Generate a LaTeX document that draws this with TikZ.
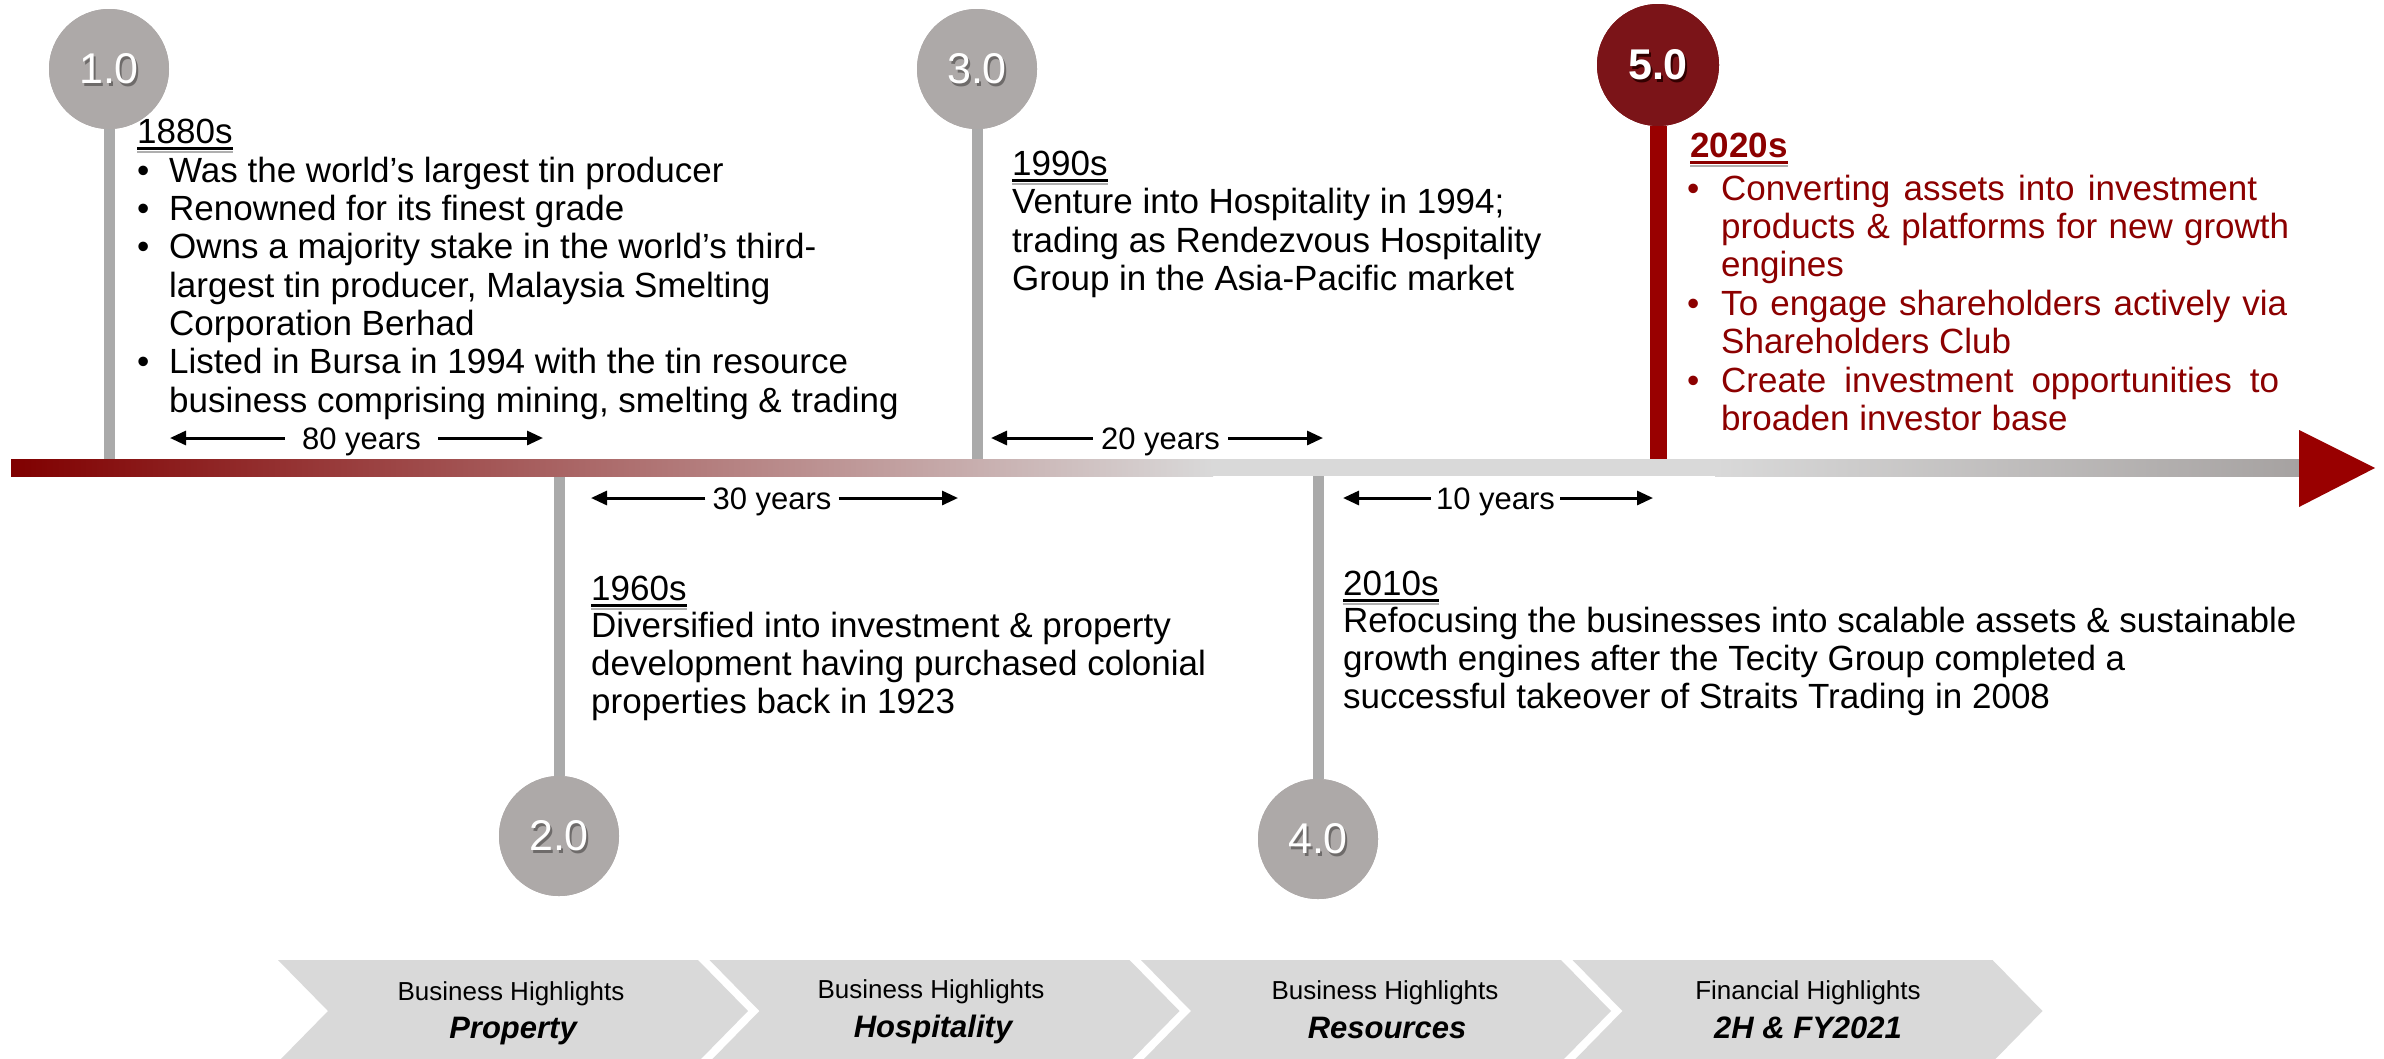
\documentclass[tikz,border=0pt]{standalone}
\usepackage{fontspec}
\setmainfont{Liberation Sans}
\usetikzlibrary{arrows.meta}
\definecolor{barred}{RGB}{128,0,0}
\definecolor{barlight}{RGB}{217,217,217}
\definecolor{bargray}{RGB}{166,162,161}
\definecolor{circgray}{RGB}{173,169,168}
\definecolor{stemgray}{RGB}{170,170,170}
\definecolor{circred}{RGB}{123,20,24}
\definecolor{darkred}{RGB}{153,0,0}
\definecolor{txtred}{RGB}{140,0,0}
\definecolor{chevgray}{RGB}{217,217,217}
\definecolor{numshadow}{RGB}{110,107,106}
\definecolor{ushadow}{RGB}{175,175,175}
\tikzset{
  body/.style={font=\fontsize{35}{42}\selectfont, inner sep=0pt, anchor=base west},
  redbody/.style={body, text=txtred},
  uline/.style={line width=3pt},
  ushd/.style={line width=2pt, draw=ushadow},
  stemline/.style={line width=11pt, draw=stemgray},
  redstem/.style={line width=17pt, draw=darkred},
  dot/.style={circle, inner sep=0pt, minimum size=120pt},
  numtxt/.style={font=\fontsize{43}{50}\selectfont, text=white, inner sep=0pt},
  numshd/.style={font=\fontsize{43}{50}\selectfont, text=numshadow, inner sep=0pt},
  yearlbl/.style={font=\fontsize{31}{36}\selectfont, text height=22pt, text depth=0pt, inner ysep=0pt},
  yarrow/.style={line width=3pt, -{Triangle[length=16pt,width=14pt]}},
  chevtop/.style={font=\fontsize{26}{30}\selectfont, inner sep=0pt, anchor=base},
  chevbot/.style={font=\fontsize{31}{36}\selectfont\bfseries\itshape, inner sep=0pt, anchor=base},
}
\newcommand{\jline}[2]{\makebox[#1pt][s]{#2}}
\begin{document}
\begin{tikzpicture}[x=1pt,y=-1pt]
\useasboundingbox (0,0) rectangle (2384,1058);
\fill[white] (0,0) rectangle (2384,1058);

% coordinates of bar edges
\coordinate (bartop) at (0,459);
\coordinate (barbot) at (0,476);

% circles (nodes)
\node[dot, fill=circgray] (c1) at (109,69) {};
\node[dot, fill=circgray] (c2) at (559,836) {};
\node[dot, fill=circgray] (c3) at (977,69) {};
\node[dot, fill=circgray] (c4) at (1318,839) {};
\node[dot, fill=circred, minimum size=122pt] (c5) at (1658,65) {};

% stems
\draw[stemline] (c1.south) -- (c1.south |- bartop);
\draw[stemline] (c3.south) -- (c3.south |- bartop);
\draw[stemline] (c2.north) -- (c2.north |- barbot);
\draw[stemline] (c4.north) -- (c4.north |- barbot);
\draw[redstem] (c5.south) -- (c5.south |- bartop);

% redraw circles on top of stems
\fill[circgray] (c1) circle (60);
\fill[circgray] (c2) circle (60);
\fill[circgray] (c3) circle (60);
\fill[circgray] (c4) circle (60);
\fill[circred] (c5) circle (61);

% numbers
\node[numshd] (s1) at ([shift={(2,3)}]c1.center) {1.0};
\node[numtxt] (n1) at (c1.center) {1.0};
\node[numshd] (s2) at ([shift={(2,3)}]c2.center) {2.0};
\node[numtxt] (n2) at (c2.center) {2.0};
\node[numshd] (s3) at ([shift={(2,3)}]c3.center) {3.0};
\node[numtxt] (n3) at (c3.center) {3.0};
\node[numshd] (s4) at ([shift={(2,3)}]c4.center) {4.0};
\node[numtxt] (n4) at (c4.center) {4.0};
\node[numshd, text={rgb,255:red,50;green,0;blue,0}, font=\fontsize{43}{50}\selectfont\bfseries] (s5) at ([shift={(2,3)}]c5.center) {5.0};
\node[numtxt, font=\fontsize{43}{50}\selectfont\bfseries] (n5) at (c5.center) {5.0};

% main bar
\shade[left color=barred, right color=barlight] (11,459) rectangle (1213,476);
\fill[barlight] (1212,459) rectangle (1716,476);
\shade[left color=barlight, right color=bargray] (1715,459) rectangle (2300,476);
\fill[darkred] (2299,430) -- (2375,468) -- (2299,507) -- cycle;

% 1880s block
\node[body] (y1) at (137,143) {1880s};
\draw[ushd] ([yshift=-9pt]y1.base west) -- ([yshift=-9pt]y1.base east);
\draw[uline] ([yshift=-5pt]y1.base west) -- ([yshift=-5pt]y1.base east);
\node[body] (b1a) at (137,182) {•};
\node[body] (b1b) at (137,220) {•};
\node[body] (b1c) at (137,258) {•};
\node[body] (b1d) at (137,373) {•};
\node[body] (l1a) at (169,182) {Was the world’s largest tin producer};
\node[body] (l1b) at (169,220) {Renowned for its finest grade};
\node[body] (l1c) at (169,258) {Owns a majority stake in the world’s third-};
\node[body] (l1d) at (169,297) {largest tin producer, Malaysia Smelting};
\node[body] (l1e) at (169,335) {Corporation Berhad};
\node[body] (l1f) at (169,373) {Listed in Bursa in 1994 with the tin resource};
\node[body] (l1g) at (169,412) {business comprising mining, smelting \& trading};

% 1990s block
\node[body] (y3) at (1012,175) {1990s};
\draw[ushd] ([yshift=-9pt]y3.base west) -- ([yshift=-9pt]y3.base east);
\draw[uline] ([yshift=-5pt]y3.base west) -- ([yshift=-5pt]y3.base east);
\node[body] (l3a) at (1012,213) {Venture into Hospitality in 1994;};
\node[body] (l3b) at (1012,252) {trading as Rendezvous Hospitality};
\node[body] (l3c) at (1012,290) {Group in the Asia-Pacific market};

% 2020s block
\node[redbody, font=\fontsize{35}{42}\selectfont\bfseries] (y5) at (1690,157) {2020s};
\draw[ushd] ([yshift=-9pt]y5.base west) -- ([yshift=-9pt]y5.base east);
\draw[uline, draw=txtred] ([yshift=-5pt]y5.base west) -- ([yshift=-5pt]y5.base east);
\node[redbody] (b5a) at (1687,200) {•};
\node[redbody] (b5b) at (1687,315) {•};
\node[redbody] (b5c) at (1687,392) {•};
\node[redbody] (l5a) at (1721,200) {\jline{536}{Converting assets into investment}};
\node[redbody] (l5b) at (1721,238) {\jline{568}{products \& platforms for new growth}};
\node[redbody] (l5c) at (1721,276) {engines};
\node[redbody] (l5d) at (1721,315) {\jline{566}{To engage shareholders actively via}};
\node[redbody] (l5e) at (1721,353) {Shareholders Club};
\node[redbody] (l5f) at (1721,392) {\jline{558}{Create investment opportunities to}};
\node[redbody] (l5g) at (1721,430) {broaden investor base};

% 1960s block
\node[body] (y2) at (591,600) {1960s};
\draw[ushd] ([yshift=-9pt]y2.base west) -- ([yshift=-9pt]y2.base east);
\draw[uline] ([yshift=-5pt]y2.base west) -- ([yshift=-5pt]y2.base east);
\node[body] (l2a) at (591,637) {Diversified into investment \& property};
\node[body] (l2b) at (591,675) {development having purchased colonial};
\node[body] (l2c) at (591,713) {properties back in 1923};

% 2010s block
\node[body] (y4) at (1343,595) {2010s};
\draw[ushd] ([yshift=-9pt]y4.base west) -- ([yshift=-9pt]y4.base east);
\draw[uline] ([yshift=-5pt]y4.base west) -- ([yshift=-5pt]y4.base east);
\node[body] (l4a) at (1343,632) {Refocusing the businesses into scalable assets \& sustainable};
\node[body] (l4b) at (1343,670) {growth engines after the Tecity Group completed a};
\node[body] (l4c) at (1343,708) {successful takeover of Straits Trading in 2008};

% year spans
\node[yearlbl, inner xsep=17pt] (t80) at (361.5,438) {80 years};
\coordinate (a80l) at (170,438);
\coordinate (a80r) at (543,438);
\draw[yarrow] (t80.west) -- (a80l);
\draw[yarrow] (t80.east) -- (a80r);

\node[yearlbl, inner xsep=8pt] (t20) at (1160.5,438) {20 years};
\coordinate (a20l) at (991,438);
\coordinate (a20r) at (1323,438);
\draw[yarrow] (t20.west) -- (a20l);
\draw[yarrow] (t20.east) -- (a20r);

\node[yearlbl, inner xsep=7pt] (t30) at (772,498) {30 years};
\coordinate (a30l) at (591,498);
\coordinate (a30r) at (958,498);
\draw[yarrow] (t30.west) -- (a30l);
\draw[yarrow] (t30.east) -- (a30r);

\node[yearlbl, inner xsep=5pt] (t10) at (1495.5,498) {10 years};
\coordinate (a10l) at (1343,498);
\coordinate (a10r) at (1653,498);
\draw[yarrow] (t10.west) -- (a10l);
\draw[yarrow] (t10.east) -- (a10r);

% chevrons
\foreach \x in {278,709.5,1141,1572.5}{
  \fill[chevgray] (\x,960) -- (\x+420,960) -- (\x+470,1011) -- (\x+420,1062) -- (\x,1062) -- (\x+50,1011) -- cycle;
}
\node[chevtop] (h1) at (511,1000) {Business Highlights};
\node[chevbot] (k1) at (513,1038) {Property};
\node[chevtop] (h2) at (931,998) {Business Highlights};
\node[chevbot] (k2) at (933,1037) {Hospitality};
\node[chevtop] (h3) at (1385,999) {Business Highlights};
\node[chevbot] (k3) at (1387,1038) {Resources};
\node[chevtop] (h4) at (1808,999) {Financial Highlights};
\node[chevbot] (k4) at (1808,1038) {2H \& FY2021};
\end{tikzpicture}
\end{document}
